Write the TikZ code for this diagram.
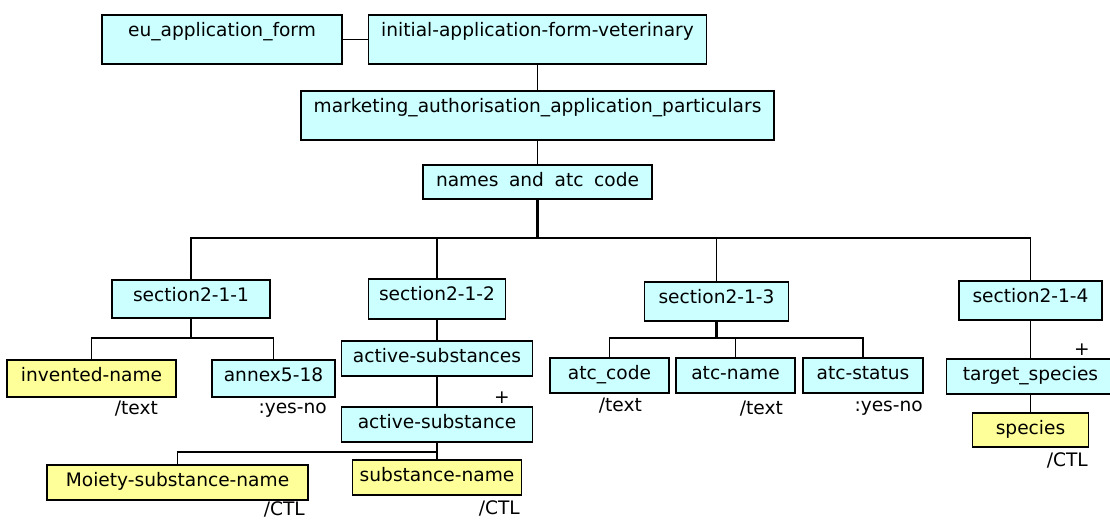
\documentclass[tikz,border=0pt]{standalone}
\usepackage{fontspec}
\setmainfont{DejaVu Sans}
\definecolor{boxcyan}{HTML}{CCFFFF}
\definecolor{boxyellow}{HTML}{FFFF99}
\tikzset{
  bx/.style={draw=black, line width=1.9pt, inner sep=0pt, text height=22pt, anchor=north,
    font=\fontsize{18.6}{22}\selectfont},
  cybox/.style={bx, fill=boxcyan},
  ylbox/.style={bx, fill=boxyellow},
  lbl/.style={inner sep=0pt, anchor=base east, font=\fontsize{18.6}{22}\selectfont},
  plus/.style={inner sep=0pt, anchor=center, font=\fontsize{18.6}{22}\selectfont},
  conn/.style={line width=1.7pt},
  thk/.style={line width=2.6pt},
}
\begin{document}
\begin{tikzpicture}[x=1pt,y=-1pt]
\useasboundingbox (0,0) rectangle (1110,519);
% top rows
\node[cybox, minimum width=240pt, text depth=27pt] (eu) at (222,14) {eu\_application\_form};
\node[cybox, minimum width=338pt, text depth=27pt] (init) at (537.5,14) {initial-application-form-veterinary};
\node[cybox, minimum width=473pt, text depth=27pt] (mkt) at (537.5,90) {marketing\_authorisation\_application\_particulars};
\node[cybox, minimum width=229pt, text depth=12pt] (names) at (537.5,164) {names\hspace{0.57em}and\hspace{0.57em}atc\hspace{0.57em}code};
% sections
\node[cybox, minimum width=158pt, text depth=16pt] (s1) at (191,279) {section2-1-1};
\node[cybox, minimum width=137pt, text depth=18pt] (s2) at (437,278) {section2-1-2};
\node[cybox, minimum width=144pt, text depth=17pt] (s3) at (716.5,281) {section2-1-3};
\node[cybox, minimum width=143pt, text depth=17pt] (s4) at (1030.5,280) {section2-1-4};
% section2-1-1 children
\node[ylbox, minimum width=169pt, text depth=15pt] (inv) at (91.5,359) {invented-name};
\node[cybox, minimum width=123pt, text depth=15pt] (ann) at (273.5,359) {annex5-18};
% section2-1-2 children
\node[cybox, minimum width=191pt, text depth=13pt] (as1) at (437,340) {active-substances};
\node[cybox, minimum width=191pt, text depth=13pt] (as2) at (437,406) {active-substance};
\node[ylbox, minimum width=261pt, text depth=13pt] (moi) at (177.5,464) {Moiety-substance-name};
\node[ylbox, minimum width=169pt, text depth=13pt] (sn) at (437,459) {substance-name};
% section2-1-3 children
\node[cybox, minimum width=119pt, text depth=13pt] (ac) at (609.5,357) {atc\_code};
\node[cybox, minimum width=119pt, text depth=13pt] (an) at (735.5,357) {atc-name};
\node[cybox, minimum width=120pt, text depth=13pt] (ast) at (863,357) {atc-status};
% section2-1-4 children
\node[cybox, minimum width=168pt, text depth=13pt] (ts) at (1030.5,358) {target\_species};
\node[ylbox, minimum width=116pt, text depth=12pt] (sp) at (1030.5,412) {species};
% type labels
\node[lbl] (linv) at (158,414) {/text};
\node[lbl] (lann) at (327,413) {:yes-no};
\node[lbl] (lmoi) at (305,515.5) {/CTL};
\node[lbl] (lsn) at (520,514) {/CTL};
\node[lbl] (lac) at (642,411) {/text};
\node[lbl] (lan) at (783,414) {/text};
\node[lbl] (last) at (923,411) {:yes-no};
\node[lbl] (lsp) at (1088,466) {/CTL};
\node[plus] (pas) at (502,398) {+};
\node[plus] (pts) at (1082,350) {+};
% connectors
\coordinate (bus) at (0,238);
\coordinate (b1) at (0,338);
\coordinate (b2) at (0,452);
\draw[conn] (eu.east) -- (init.west);
\draw[conn] (init.south) -- (mkt.north);
\draw[conn] (mkt.south) -- (names.north);
\draw[thk] (names.south) -- (names.south |- bus);
\draw[conn] (s1.north) -- (s1.north |- bus) -- (s4.north |- bus) -- (s4.north);
\draw[conn] (s2.north) -- (s2.north |- bus);
\draw[conn] (s3.north) -- (s3.north |- bus);
\draw[thk] (s1.south) -- (s1.south |- b1);
\draw[conn] (inv.north) -- (inv.north |- b1) -- (ann.north |- b1) -- (ann.north);
\draw[thk] (s3.south) -- (s3.south |- b1);
\draw[conn] (ac.north) -- (ac.north |- b1) -- (ast.north |- b1) -- (ast.north);
\draw[conn] (an.north) -- (an.north |- b1);
\draw[conn] (s2.south) -- (as1.north);
\draw[conn] (as1.south) -- (as2.north);
\draw[conn] (as2.south) -- (sn.north);
\draw[conn] (moi.north) -- (moi.north |- b2) -- (sn.north |- b2);
\draw[conn] (s4.south) -- (ts.north);
\draw[conn] (ts.south) -- (sp.north);
\end{tikzpicture}
\end{document}
